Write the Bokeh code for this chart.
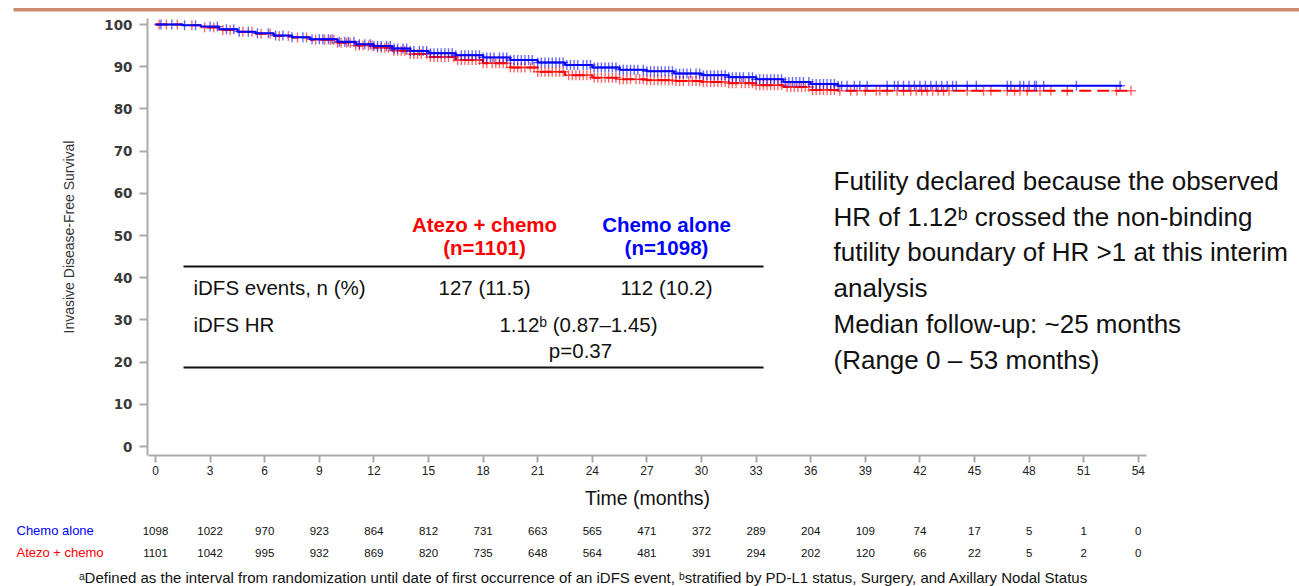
import numpy as np
from bokeh.plotting import figure
from bokeh.models import (ColumnDataSource, Range1d, FixedTicker, Label, LabelSet,
                          BoxAnnotation, LinearAxis)
from bokeh.core.properties import value
from bokeh.embed import file_html
from bokeh.resources import INLINE

# ---------------- data ----------------
chemo_t = [0, 1.5, 2.5, 3.5, 4.5, 5.5, 6.5, 7.5, 8.5, 10, 11, 12, 13, 14, 15, 16.5, 18,
           19.5, 21, 22.5, 24, 25.5, 27, 28.5, 30, 31.5, 33, 34.5, 36, 37.5]
chemo_s = [100, 99.8, 99.5, 98.9, 98.3, 97.9, 97.4, 97.0, 96.5, 95.9, 95.3, 94.9, 94.3,
           93.7, 93.2, 92.7, 92.2, 91.6, 91.0, 90.4, 89.8, 89.3, 88.9, 88.4, 88.0, 87.5,
           87.0, 86.4, 85.9, 85.5]
chemo_end = 53.1

atezo_t = [0, 1.5, 2.5, 3.5, 4.5, 5.5, 6.5, 7.5, 8.5, 10, 11, 12, 13, 14, 15, 16.5, 18,
           19.5, 21, 22.5, 24, 25.5, 27, 28.5, 30, 31.5, 33, 34.5, 36, 37.5]
atezo_s = [100, 99.8, 99.3, 98.7, 98.3, 97.8, 97.3, 96.9, 96.4, 95.7, 95.0, 94.5, 93.8,
           93.0, 92.3, 91.6, 90.8, 89.8, 88.8, 88.0, 87.4, 87.0, 86.8, 86.6, 86.4, 86.1,
           85.6, 85.2, 84.5, 84.3]
atezo_end = 53.6

chemo_cens = [0.3, 0.9, 1.6, 2.2, 3.0, 3.4, 3.9, 4.3, 4.6, 5.1, 5.6, 6.2, 6.6, 7.0, 7.5,
              8.1, 8.6, 9.0, 9.2, 9.5, 9.7, 10.1, 10.4, 10.6, 10.9, 11.2, 11.5, 11.8,
              12.0, 12.2, 12.4, 12.7, 12.9, 13.1, 13.3, 13.6, 13.8, 14.0, 14.2, 14.5, 14.7,
              14.9, 15.1, 15.3, 15.5, 15.7, 15.9, 16.1, 16.3, 16.5, 16.8, 17.0, 17.2, 17.4,
              17.6, 17.8, 18.0, 18.2, 18.4, 18.6, 18.9, 19.1, 19.3, 19.5, 19.7, 19.9, 20.1,
              20.3, 20.5, 20.7, 21.0, 21.2, 21.4, 21.6, 21.8, 22.0, 22.2, 22.4, 22.6, 22.8,
              23.0, 23.2, 23.5, 23.7, 23.9, 24.1, 24.3, 24.5, 24.7, 24.9, 25.1, 25.3, 25.5,
              25.7, 25.9, 26.1, 26.3, 26.5, 26.8, 27.0, 27.2, 27.4, 27.6, 27.8, 28.0, 28.2,
              28.4, 28.6, 28.8, 29.0, 29.2, 29.4, 29.7, 29.9, 30.1, 30.3, 30.5, 30.7, 30.9,
              31.1, 31.3, 31.5, 31.7, 31.9, 32.1, 32.3, 32.6, 32.8, 33.0, 33.2, 33.4, 33.6,
              33.8, 34.0, 34.2, 34.4, 34.6, 34.8, 35.0, 35.2, 35.4, 35.6, 35.9, 36.1, 36.3,
              36.5, 36.7, 36.9, 37.1, 37.3, 37.5, 37.7, 38.0, 38.4, 38.7, 39.1, 40.2, 40.6,
              40.8, 41.1, 41.4, 41.7, 42.0, 42.3, 42.6, 42.9, 43.2, 43.5, 43.8, 44.0, 44.6,
              45.1, 46.8, 47.0, 47.5, 47.7, 48.0, 48.3, 48.4, 48.8, 50.6, 53.0]
atezo_cens = [0.2, 0.6, 1.2, 2.0, 2.7, 3.2, 3.7, 4.1, 4.8, 5.3, 5.8, 6.3, 6.8, 7.3, 7.8,
              8.3, 8.8, 9.3, 9.6, 9.8, 10.0, 10.2, 10.5, 10.7, 11.0, 11.2, 11.4, 11.7,
              11.9, 12.2, 12.4, 12.6, 12.8, 13.1, 13.3, 13.5, 13.7, 14.0, 14.2, 14.4, 14.6,
              14.9, 15.1, 15.3, 15.5, 15.7, 15.9, 16.1, 16.4, 16.6, 16.8, 17.0, 17.2, 17.4,
              17.6, 17.8, 18.0, 18.2, 18.5, 18.7, 18.9, 19.1, 19.3, 19.5, 19.7, 19.9, 20.1,
              20.3, 20.6, 20.8, 21.0, 21.2, 21.4, 21.6, 21.8, 22.0, 22.2, 22.4, 22.7, 22.9,
              23.1, 23.3, 23.5, 23.7, 23.9, 24.1, 24.3, 24.5, 24.7, 24.9, 25.1, 25.3, 25.5,
              25.7, 25.9, 26.1, 26.4, 26.6, 26.8, 27.0, 27.2, 27.4, 27.6, 27.8, 28.0, 28.2,
              28.4, 28.6, 28.8, 29.0, 29.3, 29.5, 29.7, 29.9, 30.1, 30.3, 30.5, 30.7, 30.9,
              31.1, 31.3, 31.5, 31.7, 31.9, 32.2, 32.4, 32.6, 32.8, 33.0, 33.2, 33.4, 33.6,
              33.8, 34.0, 34.2, 34.4, 34.7, 34.9, 35.1, 35.3, 35.5, 35.7, 35.9, 36.1, 36.3,
              36.5, 36.7, 36.9, 37.1, 37.3, 37.6, 38.2, 38.55, 39.0, 39.6, 39.8, 40.2,
              40.75, 41.1, 41.5, 41.8, 42.1, 42.4, 42.7, 43.0, 43.3, 43.6, 44.6, 45.5,
              45.9, 46.8, 47.2, 47.5, 47.9, 48.6, 49.2, 50.1, 52.8, 53.6]

risk_times = [0, 3, 6, 9, 12, 15, 18, 21, 24, 27, 30, 33, 36, 39, 42, 45, 48, 51, 54]
chemo_risk = [1098, 1022, 970, 923, 864, 812, 731, 663, 565, 471, 372, 289, 204, 109, 74,
              17, 5, 1, 0]
atezo_risk = [1101, 1042, 995, 932, 869, 820, 735, 648, 564, 481, 391, 294, 202, 120, 66,
              22, 5, 2, 0]

x_ticks = [0, 3, 6, 9, 12, 15, 18, 21, 24, 27, 30, 33, 36, 39, 42, 45, 48, 51, 54]
y_ticks = [0, 10, 20, 30, 40, 50, 60, 70, 80, 90, 100]

arm_names = ["Chemo alone", "Atezo + chemo"]
arm_n = [1098, 1101]
events = ["112 (10.2)", "127 (11.5)"]

RED = "#ff0000"
BLUE = "#0000ff"
FONT = "Liberation Sans"

W, H = 1299, 586

# page-pixel -> data helpers for placing decorations (axis scale: 0 mo at px 155,
# 18.2 px per month; 0 % at px 446, 4.22 px per percent)
def X(px):
    return (px - 155) / 18.2

def Y(py):
    return (446 - py) / 4.22


def step_value(ts, ss, c):
    i = int(np.searchsorted(np.array(ts), c, side="right")) - 1
    return ss[max(i, 0)]


# ---------------- figure ----------------
p = figure(width=W, height=H, output_backend="svg", toolbar_location=None,
           x_range=Range1d(X(0), X(W)), y_range=Range1d(Y(H), Y(0)),
           x_axis_location=None, y_axis_location=None,
           min_border_left=0, min_border_right=0, min_border_top=0,
           min_border_bottom=0)
p.grid.visible = False
p.outline_line_color = None
p.background_fill_color = "white"
p.border_fill_color = "white"

xax = LinearAxis(fixed_location=Y(455), ticker=FixedTicker(ticks=x_ticks),
                 bounds=(X(148), X(1146)))
yax = LinearAxis(fixed_location=X(147), ticker=FixedTicker(ticks=y_ticks),
                 bounds=(Y(455), Y(18)))
for ax in (xax, yax):
    ax.axis_line_color = "#ababab"
    ax.axis_line_width = 2
    ax.major_tick_line_color = "#ababab"
    ax.major_tick_line_width = 2
    ax.major_tick_in = 0
    ax.minor_tick_line_color = None
    ax.axis_label_text_font = FONT
    ax.axis_label_text_font_style = "normal"

xax.major_tick_out = 7
xax.major_label_standoff = 3
xax.major_label_text_font = FONT
xax.major_label_text_font_size = "12px"
xax.major_label_text_color = "#222222"
xax.axis_label = "Time (months)"
xax.axis_label_text_font_size = "19.5px"
xax.axis_label_text_color = "#111111"
xax.axis_label_standoff = 9

yax.major_tick_out = 8
yax.major_label_standoff = 7
yax.major_label_text_font = "DejaVu Sans"
yax.major_label_text_font_style = "bold"
yax.major_label_text_font_size = "13.5px"
yax.major_label_text_color = "#3a3a3a"
yax.axis_label = "Invasive Disease-Free Survival"
yax.axis_label_text_font_size = "14px"
yax.axis_label_text_color = "#333333"
yax.axis_label_standoff = 24

p.add_layout(xax, "below")
p.add_layout(yax, "left")

# top decorative rule
p.add_layout(BoxAnnotation(left=X(13), right=X(W), bottom=Y(11), top=Y(7.5),
                           fill_color="#cf8a73", fill_alpha=1.0, line_color=None))

# ---------------- KM curves ----------------
for ts, ss, end, cens, col, dash in [
        (atezo_t, atezo_s, atezo_end, atezo_cens, RED, "12 6"),
        (chemo_t, chemo_s, chemo_end, chemo_cens, BLUE, "solid")]:
    xs = list(ts) + [end]
    ys = list(ss) + [ss[-1]]
    p.step(xs, ys, mode="after", line_color=col, line_width=2, line_dash=dash)
    cy = [step_value(ts, ss, c) for c in cens]
    p.scatter(cens, cy, marker="cross", size=10, line_color=col, line_width=1.4,
              line_alpha=0.6)

# ---------------- table inside plot ----------------
p.segment(x0=[X(183), X(183)], x1=[X(763), X(763)], y0=[Y(266), Y(367)],
          y1=[Y(266), Y(367)], line_color="#111111", line_width=2)


def lab(px, py, text, size="20.5px", color="#111111", align="center", style="normal",
        font=FONT):
    p.add_layout(Label(x=X(px), y=Y(py), text=text, text_font=font, text_font_size=size,
                       text_color=color, text_align=align, text_baseline="middle",
                       text_font_style=style))


lab(484, 224, arm_names[1], color=RED, style="bold")
lab(484, 247, f"(n={arm_n[1]})", color=RED, style="bold")
lab(666, 224, arm_names[0], color=BLUE, style="bold")
lab(666, 247, f"(n={arm_n[0]})", color=BLUE, style="bold")
lab(193, 287, "iDFS events, n (%)", align="left")
lab(484, 287, events[1])
lab(666, 287, events[0])
lab(193, 324, "iDFS HR", align="left")
lab(578, 324, "1.12\u1d47 (0.87\u20131.45)")
lab(580, 350, "p=0.37")

right_lines = ["Futility declared because the observed",
               "HR of 1.12\u1d47 crossed the non-binding",
               "futility boundary of HR >1 at this interim",
               "analysis",
               "Median follow-up: ~25 months",
               "(Range 0 \u2013 53 months)"]
right_y = [180, 216, 251, 287, 323, 359]
for t, yy in zip(right_lines, right_y):
    lab(833, yy, t, size="26px", align="left")

# ---------------- risk table ----------------
lab(16, 530, arm_names[0], size="13px", color=BLUE, align="left")
lab(16, 552, arm_names[1], size="13px", color=RED, align="left")
rsrc = ColumnDataSource(dict(x=risk_times + risk_times,
                             y=[Y(530)] * len(risk_times) + [Y(552)] * len(risk_times),
                             t=[str(v) for v in chemo_risk] + [str(v) for v in atezo_risk]))
p.add_layout(LabelSet(x="x", y="y", text="t", source=rsrc, text_font=value(FONT),
                      text_font_size=value("11.5px"), text_color="#111111",
                      text_align="center", text_baseline="middle"))

lab(583, 577, "\u1d43Defined as the interval from randomization until date of first "
              "occurrence of an iDFS event, \u1d47stratified by PD-L1 status, Surgery, "
              "and Axillary Nodal Status", size="15px")

open("out.html", "w").write(file_html(p, INLINE))
